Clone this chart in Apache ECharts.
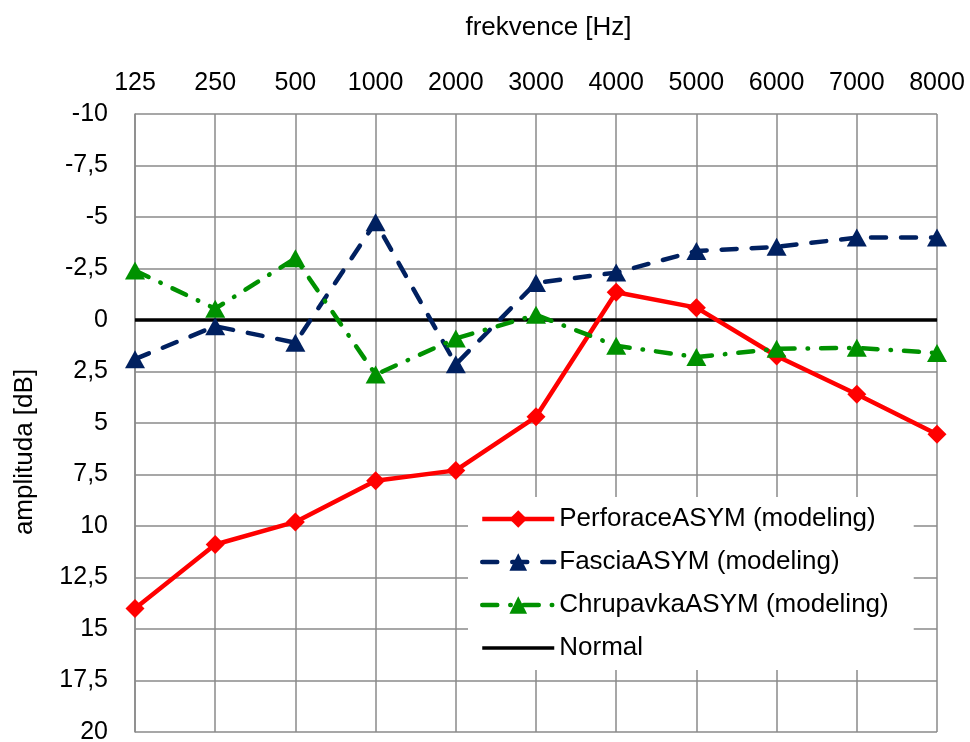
<!DOCTYPE html>
<html>
<head>
<meta charset="utf-8">
<script src="https://cdn.jsdelivr.net/npm/echarts@6/dist/echarts.min.js"></script>
<style>
  html, body { margin: 0; padding: 0; background: #fff; }
  #chart { width: 970px; height: 742px; }
</style>
</head>
<body>
<div id="chart"></div>
<script>
// Frequencies (category axis, drawn along the top)
const frequencies = ['125', '250', '500', '1000', '2000', '3000', '4000', '5000', '6000', '7000', '8000'];

// Amplitude values in dB per frequency
const perforaceAsym = [14.0, 10.9, 9.8, 7.8, 7.3, 4.7, -1.35, -0.6, 1.75, 3.6, 5.55];
const fasciaAsym = [1.9, 0.3, 1.1, -4.75, 2.15, -1.8, -2.3, -3.35, -3.55, -4.0, -4.0];
const chrupavkaAsym = [-2.4, -0.55, -3.0, 2.65, 0.9, -0.25, 1.25, 1.8, 1.4, 1.35, 1.6];
const normalLevel = [0, 0, 0, 0, 0, 0, 0, 0, 0, 0, 0];

// Amplitude axis range and step
const ampMin = -10;
const ampMax = 20;
const ampStep = 2.5;

const FONT = "'Liberation Sans', Arial, sans-serif";
const GRID = '#8a8a8a';

const RED = '#ff0000';
const NAVY = '#002060';
const GREEN = '#009100';

const chart = echarts.init(document.getElementById('chart'), null, { renderer: 'canvas' });

chart.setOption({
  animation: false,
  backgroundColor: '#ffffff',
  textStyle: { fontFamily: FONT, color: '#000' },
  grid: { left: 135, right: 33, top: 114, bottom: 10, containLabel: false, outerBoundsMode: 'none' },
  xAxis: {
    type: 'category',
    position: 'top',
    data: frequencies,
    boundaryGap: false,
    name: 'frekvence [Hz]',
    nameLocation: 'middle',
    nameGap: 73,
    nameMoveOverlap: false,
    nameTextStyle: { fontFamily: FONT, fontSize: 26, color: '#000', padding: [0, 0, 0, 25] },
    axisLine: { show: true, lineStyle: { color: GRID, width: 1.5 } },
    axisTick: { show: false },
    axisLabel: { fontFamily: FONT, fontSize: 25, color: '#000', margin: 18, interval: 0 },
    splitLine: { show: true, lineStyle: { color: GRID, width: 1.5 } }
  },
  yAxis: {
    type: 'value',
    inverse: true,
    min: ampMin,
    max: ampMax,
    interval: ampStep,
    name: 'amplituda [dB]',
    nameLocation: 'middle',
    nameGap: 97,
    nameRotate: 90,
    nameMoveOverlap: false,
    nameTextStyle: { fontFamily: FONT, fontSize: 26, color: '#000', padding: [0, 58, 0, 0] },
    axisLine: { show: true, lineStyle: { color: GRID, width: 1.5 } },
    axisTick: { show: false },
    axisLabel: {
      fontFamily: FONT, fontSize: 25, color: '#000', margin: 27,
      formatter: v => String(v).replace('.', ',')
    },
    splitLine: { show: true, lineStyle: { color: GRID, width: 1.5 } }
  },
  legend: {
    orient: 'vertical',
    left: 468,
    top: 497,
    padding: [9, 25, 9, 12],
    backgroundColor: '#ffffff',
    itemWidth: 72,
    itemHeight: 22,
    itemGap: 17,
    textStyle: { fontFamily: FONT, fontSize: 26, color: '#000' },
    data: [
      { name: 'PerforaceASYM (modeling)', lineStyle: { width: 4.5 } },
      { name: 'FasciaASYM (modeling)', lineStyle: { width: 4.5 } },
      { name: 'ChrupavkaASYM (modeling)', lineStyle: { width: 4.5 } },
      { name: 'Normal', lineStyle: { width: 3.3 }, itemStyle: { color: 'rgba(0,0,0,0)' } }
    ]
  },
  series: [
    {
      name: 'Normal',
      type: 'line',
      data: normalLevel,
      showSymbol: false,
      symbol: 'none',
      lineStyle: { color: '#000', width: 3.3 },
      itemStyle: { color: '#000' },
      z: 1
    },
    {
      name: 'PerforaceASYM (modeling)',
      type: 'line',
      data: perforaceAsym,
      symbol: 'diamond',
      symbolSize: 19,
      lineStyle: { color: RED, width: 4.5 },
      itemStyle: { color: RED },
      z: 2
    },
    {
      name: 'FasciaASYM (modeling)',
      type: 'line',
      data: fasciaAsym,
      symbol: 'triangle',
      symbolSize: [20, 18],
      lineStyle: { color: NAVY, width: 4.5, type: [15, 15], cap: 'round' },
      itemStyle: { color: NAVY },
      z: 3
    },
    {
      name: 'ChrupavkaASYM (modeling)',
      type: 'line',
      data: chrupavkaAsym,
      symbol: 'triangle',
      symbolSize: [20, 18],
      lineStyle: { color: GREEN, width: 4.5, type: [15, 13, 0.5, 13], cap: 'round' },
      itemStyle: { color: GREEN },
      z: 4
    }
  ]
});
</script>
</body>
</html>
